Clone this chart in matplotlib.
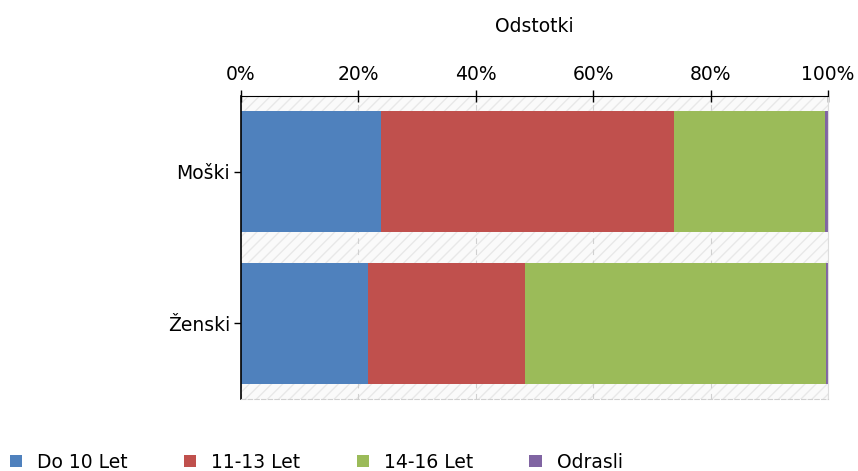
import numpy as np
import matplotlib.pyplot as plt
from matplotlib.patches import Rectangle

categories = ["Moški", "Ženski"]
series = ["Do 10 Let", "11-13 Let", "14-16 Let", "Odrasli"]
do10 = [23.9, 21.6]
let11_13 = [49.9, 26.8]
let14_16 = [25.7, 51.2]
odrasli = [0.5, 0.4]
values = [do10, let11_13, let14_16, odrasli]
colors = ["#4f81bd", "#c0504d", "#9bbb59", "#8064a2"]
ticks = [0, 20, 40, 60, 80, 100]

FS = 13.5
plt.rcParams["font.family"] = "DejaVu Sans"
fig = plt.figure(figsize=(8.58, 4.71), dpi=100)
ax = fig.add_axes([241 / 858, 1 - 399 / 471, 587 / 858, 303 / 471])

# hatched background
ax.set_facecolor("#fafafa")
ax.add_patch(Rectangle((0, 0), 1, 1, transform=ax.transAxes, facecolor="none",
                       edgecolor="#e8e8e8", hatch="///", lw=0, zorder=0))

y = np.arange(len(categories))
left = np.zeros(len(categories))
for name, vals, c in zip(series, values, colors):
    ax.barh(y, vals, left=left, height=0.8, color=c, label=name, zorder=2)
    left += np.array(vals)

ax.set_xlim(0, 100)
ax.set_ylim(1.5, -0.5)
ax.set_yticks(y)
ax.set_yticklabels(categories, fontsize=FS)
ax.xaxis.tick_top()
ax.set_xticks(ticks)
ax.set_xticklabels([f"{t}%" for t in ticks], fontsize=FS)
ax.tick_params(axis="x", direction="inout", length=8, width=1, pad=5)
ax.tick_params(axis="y", direction="out", length=5, width=1, pad=3)
ax.grid(axis="x", color="#d0d0d0", linestyle=(0, (5, 5)), lw=0.8, zorder=1)

fig.text(534.5 / 858, 1 - 27 / 471, "Odstotki", fontsize=FS, ha="center", va="center")

ax.spines["top"].set_color("black")
ax.spines["left"].set_color("black")
ax.spines["left"].set_linewidth(1.2)
ax.spines["right"].set_color("#dddddd")
ax.spines["bottom"].set_color("#d0d0d0")
ax.spines["bottom"].set_linestyle((0, (4, 2)))

fig.legend(loc="center left", bbox_to_anchor=(10 / 858, 1 - 462 / 471), ncol=4,
           frameon=False, fontsize=FS, borderpad=0, borderaxespad=0,
           handlelength=0.65, handleheight=0.65, handletextpad=0.8,
           columnspacing=3.0)

fig.savefig("out.png", dpi=100)
